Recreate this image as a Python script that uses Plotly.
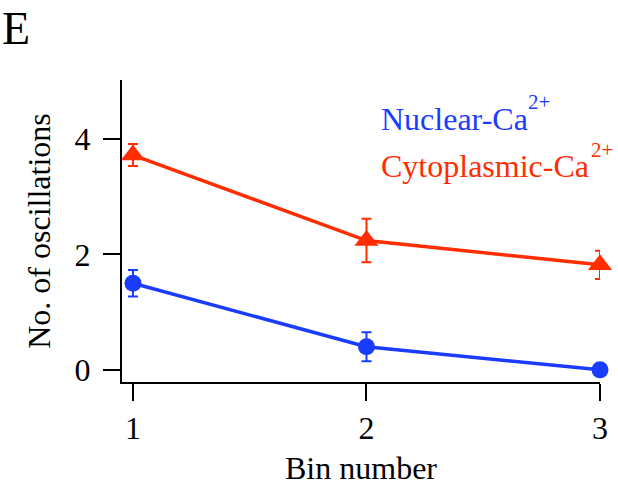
import plotly.graph_objects as go

bins = [1, 2, 3]
nuclear = [1.50, 0.40, 0.0]
nuclear_err = [0.23, 0.25, 0.0]
cyto = [3.72, 2.24, 1.82]
cyto_err = [0.19, 0.375, 0.245]
y_ticks = [0, 2, 4]
x_ticks = [1, 2, 3]

BLUE = "#1a3cff"
RED = "#ff2d00"
FONT = "Liberation Serif"

fig = go.Figure()
fig.add_trace(go.Scatter(
    x=bins, y=cyto, mode="lines+markers",
    line=dict(color=RED, width=3.5),
    marker=dict(symbol="triangle-up", size=21, color=RED),
    error_y=dict(type="data", array=cyto_err, color=RED, thickness=2, width=5),
    cliponaxis=False, showlegend=False))
fig.add_trace(go.Scatter(
    x=bins, y=nuclear, mode="lines+markers",
    line=dict(color=BLUE, width=3.5),
    marker=dict(symbol="circle", size=17, color=BLUE),
    error_y=dict(type="data", array=nuclear_err, color=BLUE, thickness=2, width=5),
    cliponaxis=False, showlegend=False))

axis_common = dict(showline=True, linecolor="black", linewidth=2, ticks="outside",
                   ticklen=17, tickwidth=2, tickcolor="black", showgrid=False,
                   zeroline=False, automargin=False,
                   tickfont=dict(family=FONT, size=32, color="black"))

fig.update_xaxes(range=[0.953, 3.0], tickvals=x_ticks, ticktext=[str(v) for v in x_ticks],
                 title=dict(text="Bin number", font=dict(family=FONT, size=32, color="black"), standoff=13),
                 ticklabelstandoff=0, **axis_common)
fig.update_yaxes(range=[-0.21, 5.02], tickvals=y_ticks, ticktext=[str(v) for v in y_ticks],
                 title=dict(text="No. of oscillations", font=dict(family=FONT, size=32, color="black"), standoff=14),
                 ticklabelstandoff=6, **axis_common)

legend_font = 32
sup_font = 21
fig.update_layout(
    width=618, height=486,
    margin=dict(l=122, r=18, t=80, b=104),
    plot_bgcolor="white", paper_bgcolor="white",
    font=dict(family=FONT, color="black"),
    annotations=[
        dict(text="E", xref="paper", yref="paper", x=-0.256, y=1.17, xanchor="left", yanchor="middle",
             showarrow=False, font=dict(family=FONT, size=46, color="black")),
        dict(text="Nuclear-Ca", xref="paper", yref="paper", x=0.538, y=0.87,
             xanchor="left", yanchor="middle", showarrow=False,
             font=dict(family=FONT, size=legend_font, color=BLUE)),
        dict(text="2+", xref="paper", yref="paper", x=0.846, y=0.928,
             xanchor="left", yanchor="middle", showarrow=False,
             font=dict(family=FONT, size=sup_font, color=BLUE)),
        dict(text="Cytoplasmic-Ca", xref="paper", yref="paper", x=0.538, y=0.715,
             xanchor="left", yanchor="middle", showarrow=False,
             font=dict(family=FONT, size=legend_font, color=RED)),
        dict(text="2+", xref="paper", yref="paper", x=0.976, y=0.768,
             xanchor="left", yanchor="middle", showarrow=False,
             font=dict(family=FONT, size=sup_font, color=RED)),
    ],
)

fig.write_html("out.html", config={"displayModeBar": False},
               post_script="document.body.style.margin='0';")
